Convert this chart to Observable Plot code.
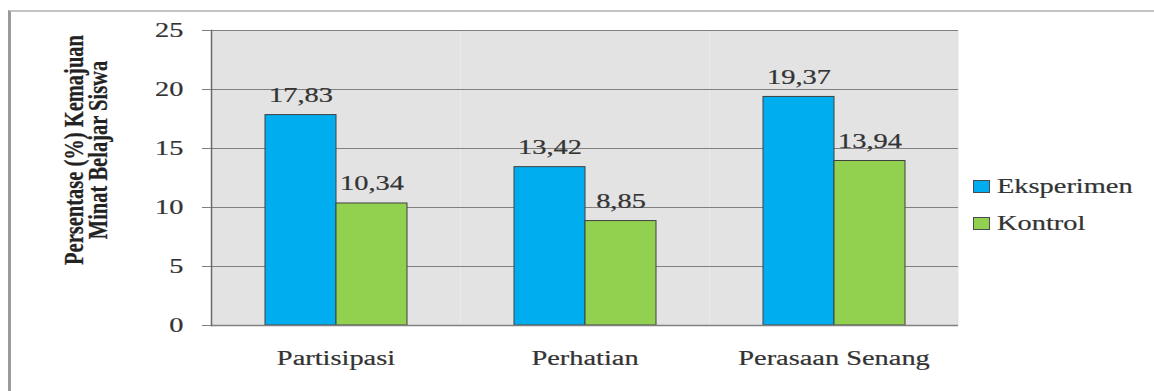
<!DOCTYPE html>
<html>
<head>
<meta charset="utf-8">
<script src="https://cdn.jsdelivr.net/npm/d3@7"></script>
<script src="https://cdn.jsdelivr.net/npm/@observablehq/plot@0.6"></script>
<style>
  html, body { margin: 0; padding: 0; background: #fff; }
  #wrap { position: relative; width: 1154px; height: 391px; overflow: hidden; }
  #border { position: absolute; left: 8px; top: 10px; width: 1150px; height: 400px;
            border-left: 3px solid #9a9a9a; border-top: 2px solid #c4c4c4; box-sizing: border-box; }
  #chart { position: absolute; left: 0; top: 0; }
  #chart text { stroke: #333; stroke-width: 0.2px; }
  .sw { position: absolute; width: 15px; height: 11px; border: 1px solid #4a4a4a; }
  .lt { position: absolute; font-family: "Liberation Serif", "Times New Roman", serif; font-size: 20px; line-height: 20px;
        color: #333; transform: scaleX(1.42); transform-origin: left center; white-space: nowrap;
        -webkit-text-stroke: 0.2px #333; }
</style>
</head>
<body>
<div id="wrap">
  <div id="border"></div>
  <div id="chart"></div>
  <div id="legend"></div>
</div>
<script>
const categories = ["Partisipasi", "Perhatian", "Perasaan Senang"];
const series = ["Eksperimen", "Kontrol"];
const eksperimen = [17.83, 13.42, 19.37];
const kontrol = [10.34, 8.85, 13.94];
const yTicks = [0, 5, 10, 15, 20, 25];
const colors = ["#00AEEF", "#92D050"];
const yTitle = "Persentase (%) Kemajuan\nMinat Belajar Siswa";

const data = categories.flatMap((c, i) => [
  {cat: c, series: series[0], value: eksperimen[i]},
  {cat: c, series: series[1], value: kontrol[i]}
]);
const fmt = v => v.toFixed(2).replace(".", ",");

const chart = Plot.plot({
  width: 1154,
  height: 391,
  marginLeft: 211,
  marginRight: 196,
  marginTop: 30,
  marginBottom: 66,
  style: {fontFamily: "'Liberation Serif', 'Times New Roman', serif", fontSize: "20px", color: "#333", background: "transparent"},
  fx: {domain: categories, padding: 0, label: null},
  x: {domain: series, paddingInner: 0, paddingOuter: 0.75, axis: null},
  y: {domain: [0, 25], label: null},
  color: {domain: series, range: colors},
  marks: [
    Plot.frame({fill: "#e3e3e3", stroke: null}),
    Plot.gridY(yTicks, {stroke: "#808080", strokeOpacity: 1, strokeWidth: 1}),
    Plot.barY(data, {fx: "cat", x: "series", y: "value", fill: "series", stroke: "#404040", strokeWidth: 1}),
    Plot.ruleY([0], {stroke: "#808080", strokeWidth: 1.5}),
    Plot.frame({anchor: "left", facetAnchor: "left", stroke: "#6a6a6a", strokeWidth: 1.5}),
    Plot.axisY(yTicks, {tickSize: 9, tickPadding: 19, label: null, stroke: "#808080", fill: "#333"}),
    Plot.axisFx({anchor: "bottom", tickSize: 0, tickPadding: 25, label: null, fill: "#333"}),
    Plot.text(data, {fx: "cat", x: "series", y: "value", text: d => fmt(d.value), dy: -13, lineAnchor: "bottom", fill: "#333"}),
    Plot.text([yTitle], {frameAnchor: "left", facetAnchor: "left", rotate: -90, dx: -146, dy: -28,
      lineAnchor: "top", textAnchor: "middle", fontWeight: "bold", fontSize: 20.5, lineHeight: 0.85, fill: "#222"})
  ]
});

// emulate the horizontally stretched type of the original raster
chart.querySelectorAll("text").forEach(t => {
  const tr = t.getAttribute("transform") || "";
  const ptr = (t.parentNode.getAttribute && t.parentNode.getAttribute("transform")) || "";
  if (tr.includes("rotate") || ptr.includes("rotate")) {
    t.setAttribute("transform", tr + " scale(1,1.38)");
  } else {
    const x = parseFloat(t.getAttribute("x")) || 0;
    t.setAttribute("transform", `${tr} translate(${x},0) scale(1.42,1) translate(${-x},0)`);
  }
});
document.getElementById("chart").appendChild(chart);

// legend
const legend = document.getElementById("legend");
series.forEach((s, i) => {
  const sw = document.createElement("div");
  sw.className = "sw";
  sw.style.left = "973px";
  sw.style.top = (180 + i * 37) + "px";
  sw.style.background = colors[i];
  legend.appendChild(sw);
  const lt = document.createElement("div");
  lt.className = "lt";
  lt.style.left = "997px";
  lt.style.top = (176 + i * 37) + "px";
  lt.textContent = s;
  legend.appendChild(lt);
});
</script>
</body>
</html>
